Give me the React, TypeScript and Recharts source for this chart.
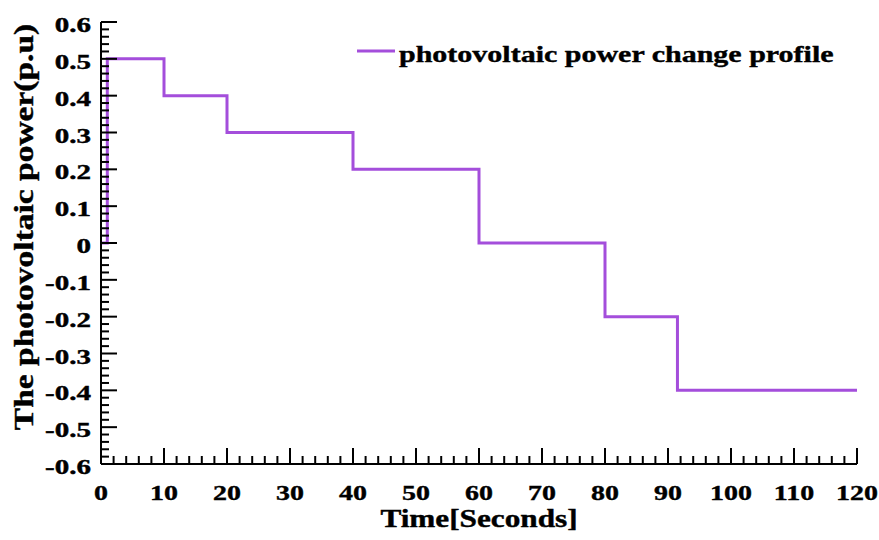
import { LineChart, Line, XAxis, YAxis, Legend, Label } from 'recharts';

// step points of the photovoltaic power profile (time in s, power in p.u)
const TIME = [0, 1, 10, 20, 40, 60, 80, 91.5, 120];
const POWER = [0, 0.5, 0.4, 0.3, 0.2, 0, -0.2, -0.4, -0.4];

const X_TICKS = [
  0, 2, 4, 6, 8, 10, 12, 14, 16, 18, 20, 22, 24, 26, 28, 30, 32, 34, 36, 38, 40,
  42, 44, 46, 48, 50, 52, 54, 56, 58, 60, 62, 64, 66, 68, 70, 72, 74, 76, 78, 80,
  82, 84, 86, 88, 90, 92, 94, 96, 98, 100, 102, 104, 106, 108, 110, 112, 114, 116, 118, 120,
];
const Y_TICKS = [
  -0.6, -0.58, -0.56, -0.54, -0.52, -0.5, -0.48, -0.46, -0.44, -0.42, -0.4,
  -0.38, -0.36, -0.34, -0.32, -0.3, -0.28, -0.26, -0.24, -0.22, -0.2,
  -0.18, -0.16, -0.14, -0.12, -0.1, -0.08, -0.06, -0.04, -0.02, 0,
  0.02, 0.04, 0.06, 0.08, 0.1, 0.12, 0.14, 0.16, 0.18, 0.2,
  0.22, 0.24, 0.26, 0.28, 0.3, 0.32, 0.34, 0.36, 0.38, 0.4,
  0.42, 0.44, 0.46, 0.48, 0.5, 0.52, 0.54, 0.56, 0.58, 0.6,
];

const SERIES_NAME = 'photovoltaic power change profile';
const X_TITLE = 'Time[Seconds]';
const Y_TITLE = 'The photovoltaic power(p.u)';

const PURPLE = '#A44EDB';
const FONT = '"Liberation Serif", "Times New Roman", serif';
const MAJOR = 16;
const MINOR = 8;

const data = TIME.map((t, i) => ({ t, p: POWER[i] }));

const isMajorX = (v: number) => v % 10 === 0;
const isMajorY = (v: number) => Math.round(v * 100) % 10 === 0;
const fmtY = (v: number) => (Math.abs(v) < 1e-9 ? '0' : v.toFixed(1));

// shared look of all the bold serif text
const textStyle = {
  fontFamily: FONT,
  fontWeight: 'bold' as const,
  fill: '#000',
  stroke: '#000',
  strokeWidth: 0.4,
};

const BottomTick = (props: any) => {
  const { x, y, payload } = props;
  const major = isMajorX(payload.value);
  return (
    <g>
      <line x1={x} y1={y} x2={x} y2={y - (major ? MAJOR : MINOR)} stroke="#000" strokeWidth={2} />
      {major && (
        <text
          transform={`translate(${x},${y + 36}) scale(1.27,1)`}
          textAnchor="middle"
          fontSize={22}
          style={textStyle}
        >
          {payload.value}
        </text>
      )}
    </g>
  );
};

const TopTick = (props: any) => {
  const { x, y, payload } = props;
  const major = isMajorX(payload.value);
  return <line x1={x} y1={y} x2={x} y2={y + (major ? MAJOR : MINOR)} stroke="#000" strokeWidth={2} />;
};

const LeftTick = (props: any) => {
  const { x, y, payload } = props;
  const major = isMajorY(payload.value);
  return (
    <g>
      <line x1={x} y1={y} x2={x + (major ? MAJOR : MINOR)} y2={y} stroke="#000" strokeWidth={2} />
      {major && (
        <text
          transform={`translate(${x - 10},${y + 10}) scale(1.45,1)`}
          textAnchor="end"
          fontSize={20}
          style={textStyle}
        >
          {fmtY(payload.value)}
        </text>
      )}
    </g>
  );
};

const RightTick = (props: any) => {
  const { x, y, payload } = props;
  const major = isMajorY(payload.value);
  return <line x1={x} y1={y} x2={x - (major ? MAJOR : MINOR)} y2={y} stroke="#000" strokeWidth={2} />;
};

const XTitle = (props: any) => {
  const { x, y, width } = props.viewBox;
  return (
    <text
      transform={`translate(${x + width / 2},${y + 63}) scale(1.25,1)`}
      textAnchor="middle"
      fontSize={25}
      style={textStyle}
    >
      {X_TITLE}
    </text>
  );
};

const YTitle = (props: any) => {
  const { x, y, height } = props.viewBox;
  return (
    <text
      transform={`translate(${x + 33},${y + height / 2 - 16}) rotate(-90) scale(1.24,1)`}
      textAnchor="middle"
      fontSize={27}
      style={textStyle}
    >
      {Y_TITLE}
    </text>
  );
};

const LegendBox = () => (
  <svg width={520} height={40} style={{ display: 'block' }}>
    <line x1={7} y1={21} x2={45} y2={21} stroke={PURPLE} strokeWidth={3} />
    <text transform="translate(49,31.5) scale(1.25,1)" fontSize={24} style={textStyle}>
      {SERIES_NAME}
    </text>
  </svg>
);

export default function App() {
  return (
    <div style={{ position: 'absolute', left: 0, top: 0, width: 879, height: 540, background: '#fff' }}>
      <LineChart width={879} height={540} data={data} margin={{ top: 22, right: 22, left: 0, bottom: 0 }}>
        <XAxis
          dataKey="t"
          type="number"
          domain={[0, 120]}
          ticks={X_TICKS}
          interval={0}
          height={76}
          tickSize={0}
          tickMargin={0}
          tickLine={false}
          tick={BottomTick}
          axisLine={{ stroke: '#000', strokeWidth: 2 }}
        >
          <Label content={XTitle} />
        </XAxis>
        <XAxis
          xAxisId="top"
          orientation="top"
          type="number"
          domain={[0, 120]}
          ticks={X_TICKS}
          interval={0}
          height={0}
          tickSize={0}
          tickMargin={0}
          tickLine={false}
          tick={TopTick}
          axisLine={{ stroke: '#000', strokeWidth: 2 }}
        />
        <YAxis
          type="number"
          domain={[-0.6, 0.6]}
          ticks={Y_TICKS}
          interval={0}
          width={101}
          tickSize={0}
          tickMargin={0}
          tickLine={false}
          tick={LeftTick}
          axisLine={{ stroke: '#000', strokeWidth: 2 }}
        >
          <Label content={YTitle} />
        </YAxis>
        <YAxis
          yAxisId="right"
          orientation="right"
          type="number"
          domain={[-0.6, 0.6]}
          ticks={Y_TICKS}
          interval={0}
          width={0}
          tickSize={0}
          tickMargin={0}
          tickLine={false}
          tick={RightTick}
          axisLine={{ stroke: '#000', strokeWidth: 2 }}
        />
        <Legend
          layout="horizontal"
          verticalAlign="middle"
          align="center"
          content={LegendBox}
          wrapperStyle={{ position: 'absolute', left: 350, top: 30, width: 520, height: 40 }}
        />
        <Line
          type="stepAfter"
          dataKey="p"
          name={SERIES_NAME}
          stroke={PURPLE}
          strokeWidth={3}
          dot={false}
          activeDot={false}
          isAnimationActive={false}
        />
      </LineChart>
    </div>
  );
}
